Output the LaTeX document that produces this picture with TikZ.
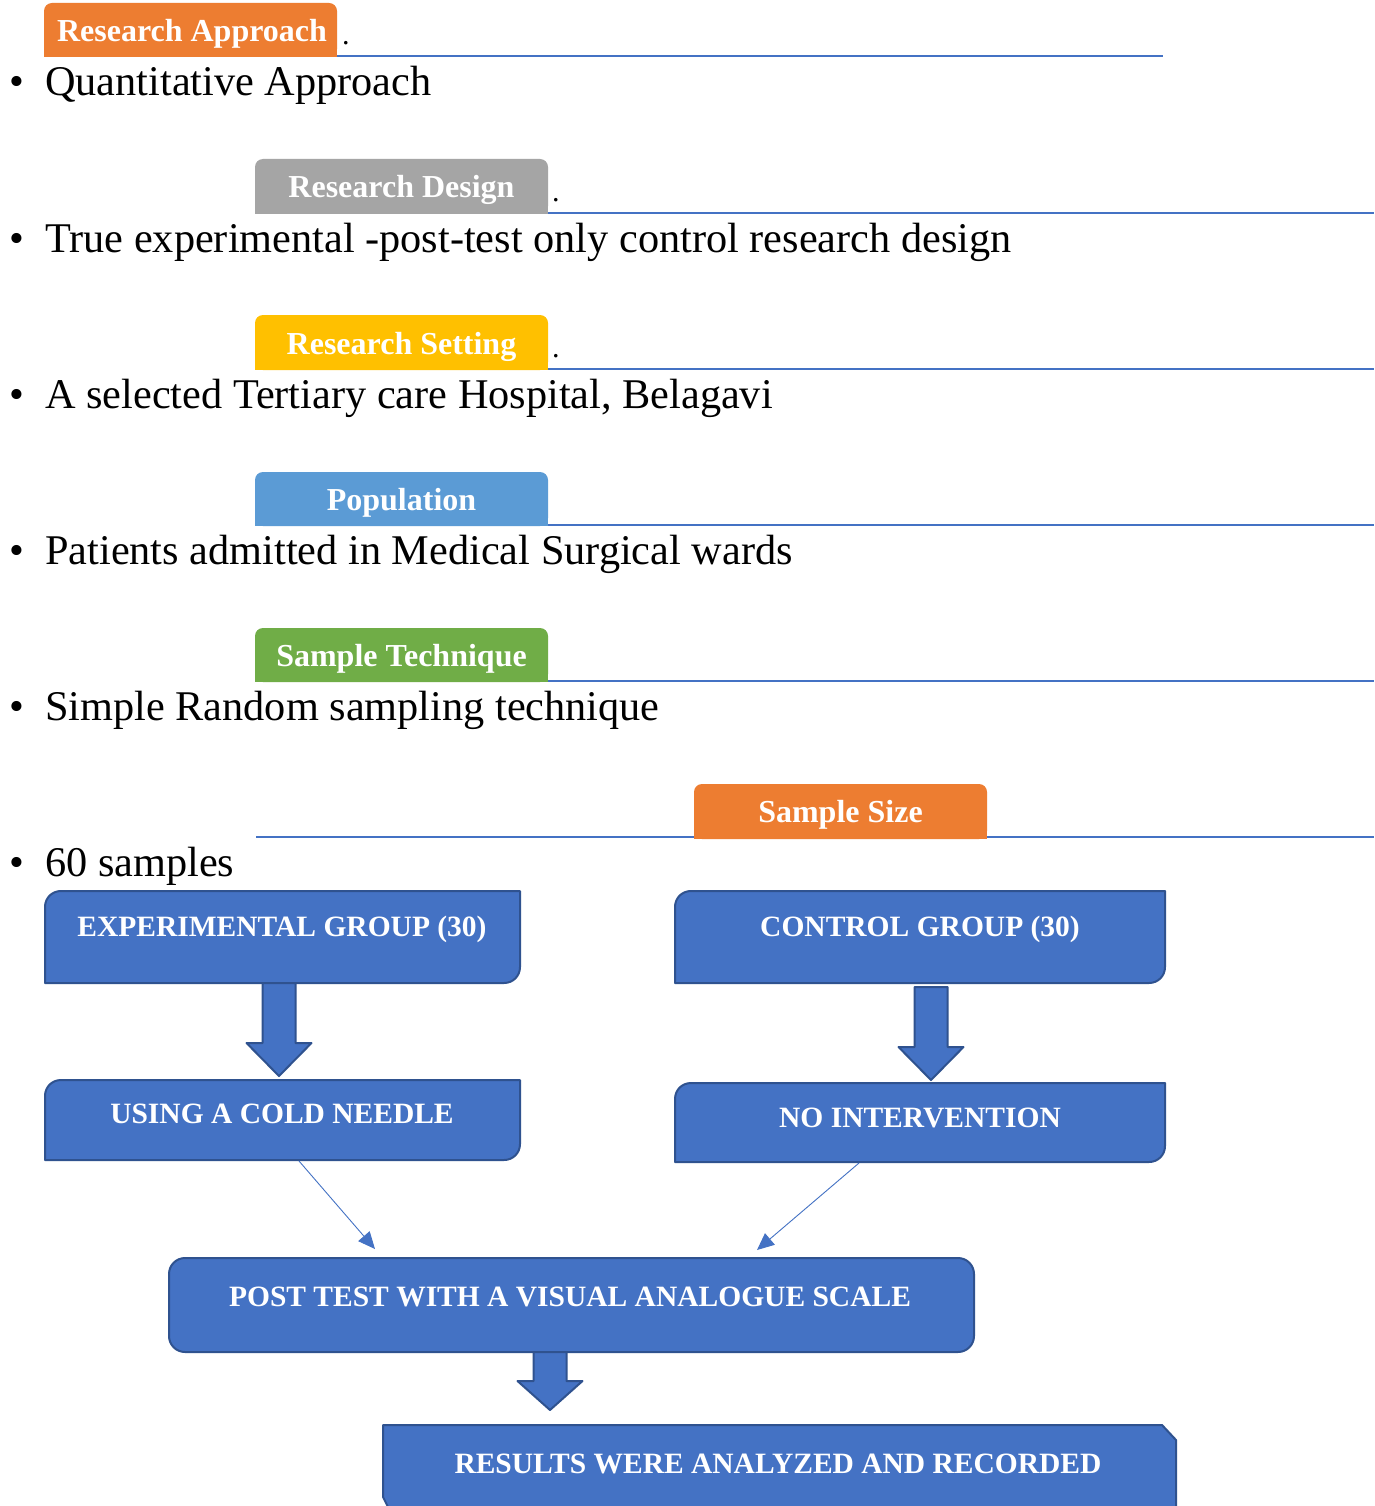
\documentclass[tikz,border=0pt]{standalone}
\usepackage{fontspec}
\setmainfont{Liberation Serif}
\usetikzlibrary{arrows.meta}
\definecolor{accblue}{HTML}{4472C4}
\definecolor{boxedge}{HTML}{2F528F}
\definecolor{taborange}{HTML}{ED7D31}
\definecolor{tabgray}{HTML}{A5A5A5}
\definecolor{tabyellow}{HTML}{FFC000}
\definecolor{tablblue}{HTML}{5B9BD5}
\definecolor{tabgreen}{HTML}{70AD47}
\newcommand{\drawtab}[5]{%
  \fill[#1, rounded corners=8pt] (#2,#3) rectangle (#4,#5);
  \fill[#1] (#2,{(#3+#5)/2}) rectangle (#4,#5);}
\newcommand{\diagrbox}[4]{%
  \filldraw[flowbox] (#1,#4) -- (#1,{#2+16}) .. controls (#1,{#2+7}) and ({#1+7},#2) .. ({#1+16},#2) -- (#3,#2) -- (#3,{#4-16}) .. controls (#3,{#4-7}) and ({#3-7},#4) .. ({#3-16},#4) -- cycle;}
\newcommand{\blockarrow}[4]{% cx, top, headstart, tip
  \filldraw[flowbox] ({#1-16.5},#2) -- ({#1+16.5},#2) -- ({#1+16.5},#3) -- ({#1+32.5},#3) -- (#1,#4) -- ({#1-32.5},#3) -- ({#1-16.5},#3) -- cycle;}
\begin{document}
\begin{tikzpicture}[x=1pt,y=-1pt,
  tabtext/.style={text=white, font=\fontsize{32}{38}\selectfont\bfseries, anchor=base, inner sep=0pt},
  bodytext/.style={font=\fontsize{42.3}{50}\selectfont, anchor=base west, inner sep=0pt},
  dottext/.style={font=\fontsize{30}{36}\selectfont, anchor=base west, inner sep=0pt},
  boxtext/.style={text=white, font=\fontsize{29.5}{35}\selectfont\bfseries, anchor=base, inner sep=0pt},
  flowbox/.style={fill=accblue, draw=boxedge, line width=2pt, line join=round},
  rulerline/.style={draw=accblue, line width=2pt},
  thinarrow/.style={draw=accblue, line width=0.9pt, -{Triangle[length=17pt,width=15pt]}}]
\useasboundingbox (0,0) rectangle (1374,1506);
\fill[white] (0,0) rectangle (1374,1506);

% ruler lines
\draw[rulerline] (337,56) -- (1163,56);
\draw[rulerline] (548,213) -- (1374,213);
\draw[rulerline] (548,369) -- (1374,369);
\draw[rulerline] (548,525) -- (1374,525);
\draw[rulerline] (548,681) -- (1374,681);
\draw[rulerline] (256,837) -- (1374,837);

% tabs
\drawtab{taborange}{44}{3}{337}{57}
\drawtab{tabgray}{255}{159}{548}{214}
\drawtab{tabyellow}{255}{315}{548}{370}
\drawtab{tablblue}{255}{472}{548}{526}
\drawtab{tabgreen}{255}{628}{548}{682}
\drawtab{taborange}{694}{784}{987}{839}

\node[tabtext] (ra) at (192,42) {Research Approach};
\node[tabtext] (rd) at (401.5,198) {Research Design};
\node[tabtext] (rs) at (401.5,354) {Research Setting};
\node[tabtext] (pop) at (401.5,510) {Population};
\node[tabtext] (st) at (401.5,666) {Sample Technique};
\node[tabtext] (ss) at (840.5,822) {Sample Size};

\node[dottext] (dot1) at (342,45) {.};
\node[dottext] (dot2) at (552,202) {.};
\node[dottext] (dot3) at (552,357) {.};

% bullets and body text
\foreach \yy/\nm in {96/b1,252/b2,408/b3,564/b4,720/b5,876/b6}
  \node[bodytext] (\nm) at (9,\yy) {•};
\node[bodytext] (t1) at (45,96) {Quantitative Approach};
\node[bodytext] (t2) at (45,252) {True experimental -post-test only control research design};
\node[bodytext] (t3) at (45,408) {A selected Tertiary care Hospital, Belagavi};
\node[bodytext] (t4) at (45,564) {Patients admitted in Medical Surgical wards};
\node[bodytext] (t5) at (45,720) {Simple Random sampling technique};
\node[bodytext] (t6) at (45,876) {60 samples};

% flow boxes
\diagrbox{45}{891}{520}{983}
\diagrbox{675}{891}{1165}{983}
\diagrbox{45}{1080}{520}{1160}
\diagrbox{675}{1083}{1165}{1162}
\filldraw[flowbox, rounded corners=16pt] (169,1258) rectangle (974,1352);
\filldraw[flowbox] (383,1425) -- (1162,1425) -- (1176,1440) -- (1176,1515) -- (392,1515) -- (383,1497) -- cycle;

% block arrows
\blockarrow{279}{983}{1043}{1076}
\blockarrow{931}{987}{1047}{1080}
\blockarrow{550}{1352}{1381}{1410}

\node[boxtext] (exp) at (282,936) {EXPERIMENTAL GROUP (30)};
\node[boxtext] (ctrl) at (920,936) {CONTROL GROUP (30)};
\node[boxtext] (cold) at (282,1123) {USING A COLD NEEDLE};
\node[boxtext] (noint) at (920,1127) {NO INTERVENTION};
\node[boxtext] (post) at (570,1306) {POST TEST WITH A VISUAL ANALOGUE SCALE};
\node[boxtext] (res) at (778,1473) {RESULTS WERE ANALYZED AND RECORDED};

% thin arrows
\coordinate (a1s) at (299,1161);
\coordinate (a1e) at (375,1249);
\coordinate (a2s) at (859,1163);
\coordinate (a2e) at (757,1250);
\draw[thinarrow] (a1s) -- (a1e);
\draw[thinarrow] (a2s) -- (a2e);
\end{tikzpicture}
\end{document}
